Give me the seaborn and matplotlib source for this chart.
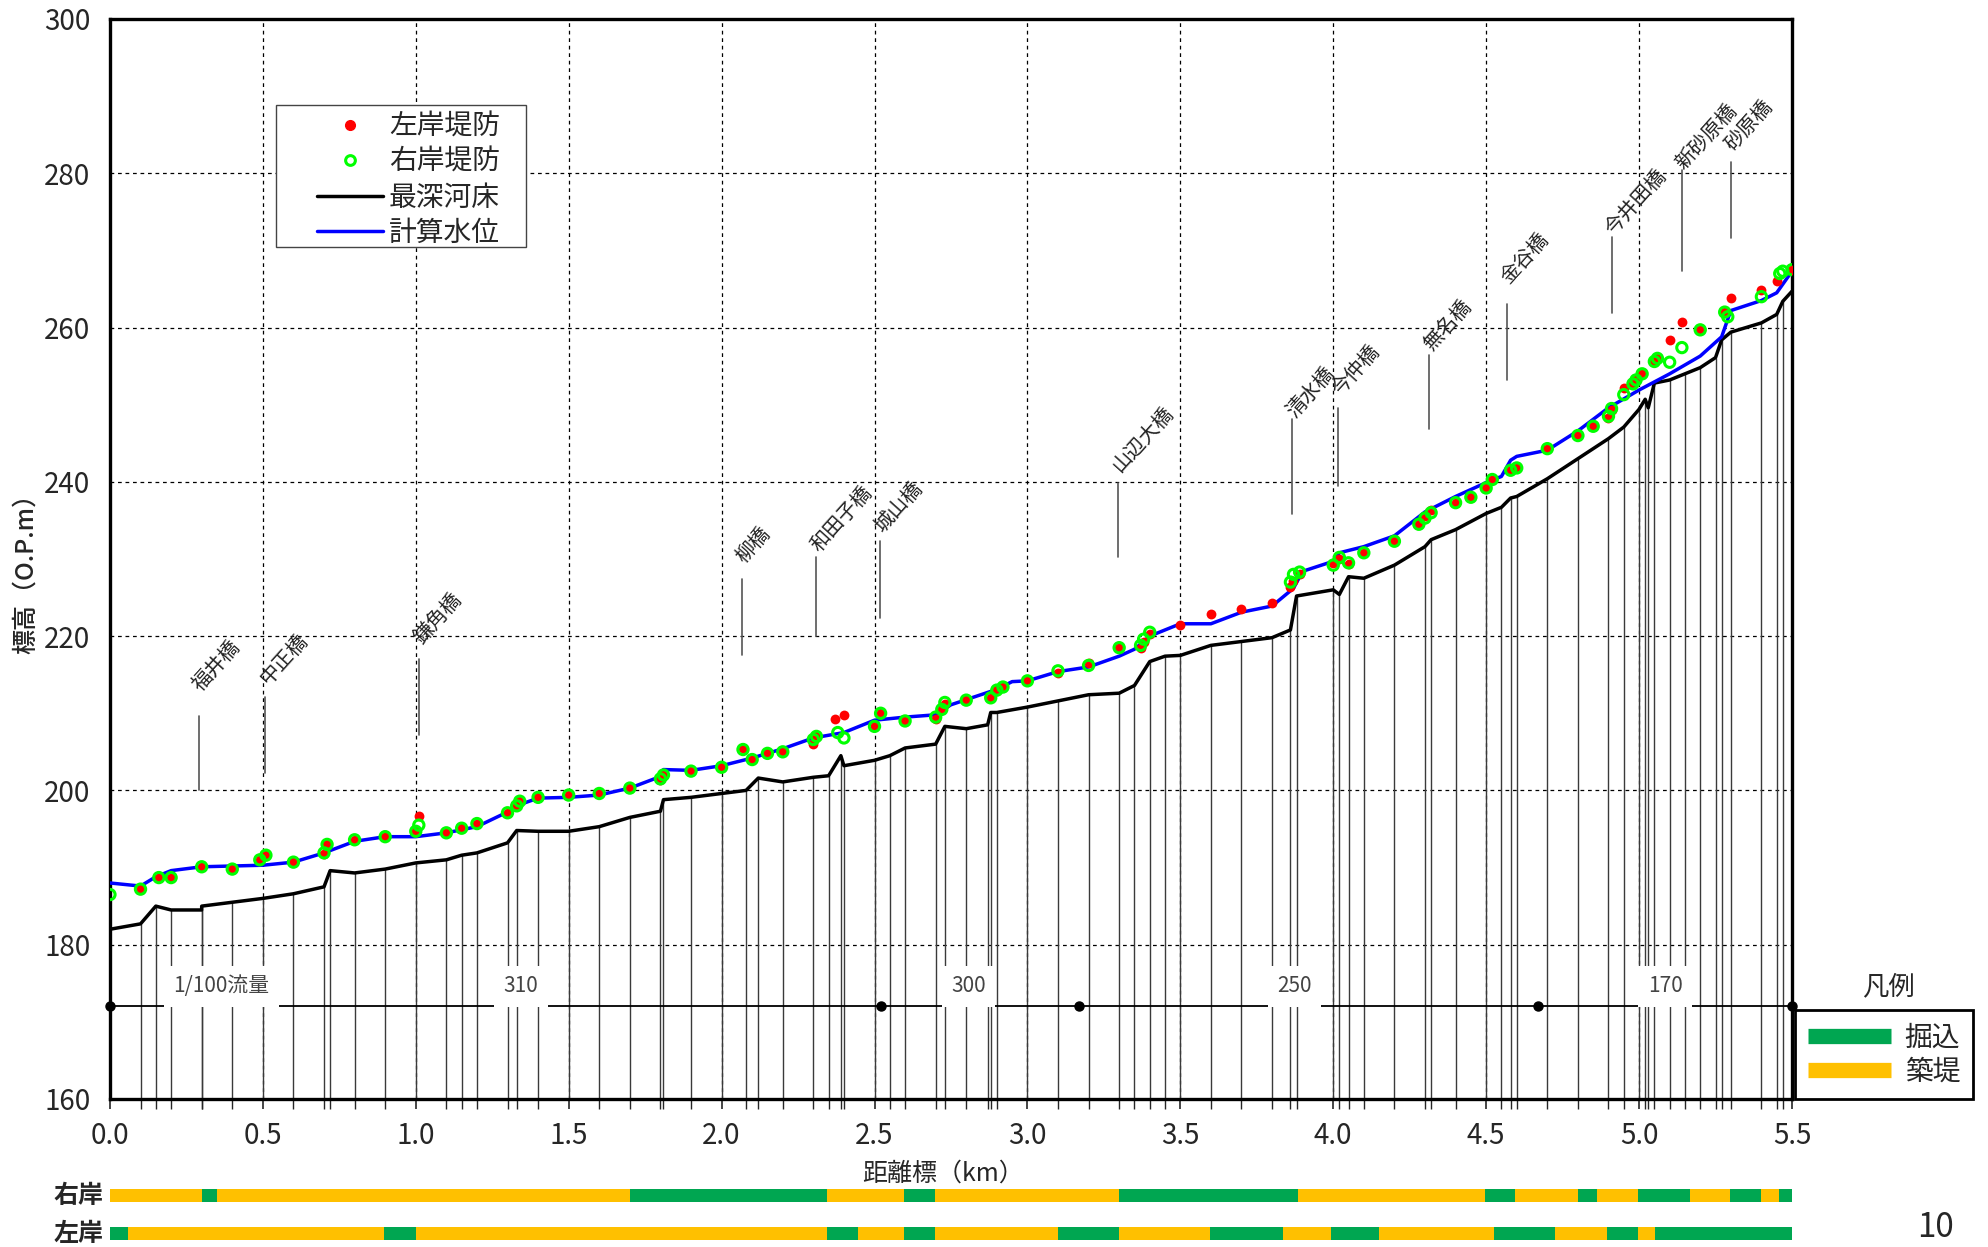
import numpy as np
import pandas as pd
import matplotlib.pyplot as plt
from matplotlib.lines import Line2D
from matplotlib.patches import Rectangle
import seaborn as sns

sns.set_style('white')
plt.rcParams['font.family'] = ['Noto Sans CJK JP', 'DejaVu Sans']
plt.rcParams['axes.unicode_minus'] = False

# 最深河床 (距離標 km, 標高 m)
bed_km = [0.00, 0.10, 0.15, 0.20, 0.30, 0.30, 0.40, 0.50, 0.60, 0.70,
          0.72, 0.80, 0.90, 1.00, 1.10, 1.15, 1.20, 1.30, 1.33, 1.40,
          1.50, 1.60, 1.70, 1.80, 1.81, 1.90, 2.00, 2.08, 2.12, 2.20,
          2.30, 2.35, 2.39, 2.40, 2.50, 2.55, 2.60, 2.70, 2.73, 2.80,
          2.87, 2.88, 2.90, 3.00, 3.10, 3.20, 3.30, 3.35, 3.40, 3.45,
          3.50, 3.60, 3.70, 3.80, 3.86, 3.88, 4.00, 4.02, 4.05, 4.10,
          4.20, 4.30, 4.32, 4.40, 4.50, 4.55, 4.58, 4.60, 4.70, 4.80,
          4.90, 4.95, 5.00, 5.02, 5.03, 5.05, 5.10, 5.15, 5.20, 5.25,
          5.27, 5.30, 5.40, 5.45, 5.47, 5.50]
bed_m = [182.0, 182.7, 185.0, 184.5, 184.5, 185.0, 185.5, 186.0, 186.6, 187.5,
         189.6, 189.3, 189.8, 190.6, 191.0, 191.6, 191.9, 193.2, 194.8, 194.7,
         194.7, 195.3, 196.5, 197.3, 198.8, 199.1, 199.6, 200.0, 201.6, 201.1,
         201.7, 201.9, 204.5, 203.2, 203.9, 204.5, 205.5, 206.0, 208.3, 208.0,
         208.5, 210.1, 210.1, 210.8, 211.6, 212.4, 212.6, 213.6, 216.7, 217.4,
         217.5, 218.8, 219.3, 219.8, 220.8, 225.2, 226.0, 225.4, 227.7, 227.5,
         229.2, 231.6, 232.5, 233.8, 235.9, 236.7, 237.9, 238.1, 240.4, 243.0,
         245.6, 247.1, 249.4, 250.7, 249.6, 252.8, 253.2, 254.0, 254.8, 256.1,
         258.4, 259.4, 260.6, 261.7, 263.4, 264.7]

# 計算水位
wl_km = [0.00, 0.10, 0.15, 0.20, 0.30, 0.50, 0.60, 0.70, 0.80, 0.90,
         1.00, 1.10, 1.20, 1.30, 1.35, 1.40, 1.50, 1.60, 1.70, 1.80,
         1.81, 1.90, 2.00, 2.10, 2.20, 2.30, 2.40, 2.50, 2.60, 2.70,
         2.75, 2.90, 2.95, 3.00, 3.10, 3.20, 3.30, 3.35, 3.40, 3.50,
         3.60, 3.70, 3.80, 3.87, 3.90, 4.00, 4.02, 4.10, 4.20, 4.30,
         4.40, 4.50, 4.55, 4.58, 4.60, 4.70, 4.80, 4.90, 5.00, 5.10,
         5.20, 5.27, 5.30, 5.40, 5.45, 5.50]
wl_m = [188.0, 187.6, 188.8, 189.6, 190.1, 190.3, 190.7, 191.9, 193.4, 194.0,
        194.0, 194.5, 195.3, 197.2, 198.3, 199.0, 199.1, 199.4, 200.3, 201.8,
        202.7, 202.6, 203.2, 204.2, 205.4, 206.8, 207.5, 209.1, 209.5, 209.8,
        211.1, 213.1, 214.1, 214.2, 215.4, 216.0, 217.4, 218.3, 220.0, 221.6,
        221.6, 223.1, 223.9, 226.2, 228.4, 229.7, 230.8, 231.6, 233.0, 236.1,
        238.1, 239.9, 240.7, 242.8, 243.3, 244.1, 246.6, 249.6, 251.9, 254.0,
        256.3, 258.8, 262.2, 263.5, 264.5, 267.3]

# 左岸堤防
left_km = [0.10, 0.16, 0.20, 0.30, 0.40, 0.49, 0.51, 0.60, 0.70, 0.71,
           0.80, 0.90, 1.00, 1.01, 1.10, 1.15, 1.20, 1.30, 1.33, 1.34,
           1.40, 1.50, 1.60, 1.70, 1.80, 1.81, 1.90, 2.00, 2.07, 2.10,
           2.15, 2.20, 2.30, 2.31, 2.37, 2.40, 2.50, 2.52, 2.60, 2.70,
           2.72, 2.73, 2.80, 2.88, 2.90, 2.92, 3.00, 3.10, 3.20, 3.30,
           3.37, 3.38, 3.40, 3.50, 3.60, 3.70, 3.80, 3.86, 3.87, 3.89,
           4.00, 4.02, 4.05, 4.10, 4.20, 4.28, 4.30, 4.32, 4.40, 4.45,
           4.50, 4.52, 4.58, 4.60, 4.70, 4.80, 4.85, 4.90, 4.91, 4.95,
           4.98, 4.99, 5.01, 5.05, 5.06, 5.10, 5.14, 5.20, 5.28, 5.30,
           5.40, 5.45, 5.50]
left_m = [187.2, 188.7, 188.7, 190.1, 189.8, 191.0, 191.6, 190.7, 191.7, 193.2,
          193.6, 194.0, 194.7, 196.7, 194.5, 195.1, 195.7, 197.1, 198.0, 198.6,
          199.1, 199.4, 199.6, 200.3, 201.3, 202.0, 202.5, 203.0, 205.5, 204.0,
          204.8, 205.0, 206.0, 207.0, 209.3, 209.8, 208.3, 210.0, 209.0, 209.3,
          210.5, 211.2, 211.7, 212.0, 213.0, 213.4, 214.2, 215.2, 216.5, 218.5,
          218.5, 219.3, 220.3, 221.5, 222.9, 223.5, 224.3, 226.4, 227.2, 228.0,
          229.5, 230.0, 229.3, 230.8, 232.3, 234.5, 235.6, 236.3, 237.3, 238.0,
          239.2, 240.3, 241.5, 241.8, 244.3, 246.0, 247.2, 248.3, 249.3, 252.2,
          252.7, 253.2, 254.0, 255.6, 256.0, 258.4, 260.7, 259.7, 262.0, 263.8,
          264.9, 266.0, 267.5]

# 右岸堤防
right_km = [0.00, 0.10, 0.16, 0.20, 0.30, 0.40, 0.49, 0.51, 0.60, 0.70,
            0.71, 0.80, 0.90, 1.00, 1.01, 1.10, 1.15, 1.20, 1.30, 1.33,
            1.34, 1.40, 1.50, 1.60, 1.70, 1.80, 1.81, 1.90, 2.00, 2.07,
            2.10, 2.15, 2.20, 2.30, 2.31, 2.38, 2.40, 2.50, 2.52, 2.60,
            2.70, 2.72, 2.73, 2.80, 2.88, 2.90, 2.92, 3.00, 3.10, 3.20,
            3.30, 3.37, 3.38, 3.40, 3.86, 3.87, 3.89, 4.00, 4.02, 4.05,
            4.10, 4.20, 4.28, 4.30, 4.32, 4.40, 4.45, 4.50, 4.52, 4.58,
            4.60, 4.70, 4.80, 4.85, 4.90, 4.91, 4.95, 4.98, 4.99, 5.01,
            5.05, 5.06, 5.10, 5.14, 5.20, 5.28, 5.29, 5.40, 5.46, 5.47,
            5.50]
right_m = [186.5, 187.2, 188.7, 188.7, 190.1, 189.8, 191.0, 191.6, 190.7, 191.9,
           193.0, 193.6, 194.0, 194.7, 195.5, 194.5, 195.1, 195.7, 197.1, 198.0,
           198.6, 199.1, 199.4, 199.6, 200.3, 201.5, 202.0, 202.5, 203.0, 205.3,
           204.0, 204.8, 205.0, 206.6, 207.0, 207.5, 206.8, 208.3, 210.0, 209.0,
           209.5, 210.5, 211.4, 211.7, 212.0, 213.0, 213.4, 214.2, 215.5, 216.2,
           218.5, 218.8, 219.6, 220.5, 227.0, 228.0, 228.3, 229.2, 230.2, 229.5,
           230.8, 232.3, 234.5, 235.3, 236.0, 237.3, 238.0, 239.2, 240.3, 241.5,
           241.8, 244.3, 246.0, 247.2, 248.5, 249.5, 251.3, 252.7, 253.2, 254.0,
           255.6, 256.0, 255.5, 257.4, 259.7, 262.0, 261.4, 264.0, 267.0, 267.3,
           267.5]

# 橋梁 (位置 km, 引出線 下端/上端 m)
bridge_names = ['福井橋', '中正橋', '鎌角橋', '柳橋', '和田子橋', '城山橋', '山辺大橋',
                '清水橋', '今仲橋', '無名橋', '金谷橋', '今井田橋', '新砂原橋', '砂原橋']
bridge_km = [0.29, 0.506, 1.012, 2.066, 2.31, 2.518, 3.297,
             3.866, 4.015, 4.313, 4.567, 4.91, 5.139, 5.30]
bridge_low = [200.1, 202.2, 207.2, 217.5, 220.0, 222.3, 230.2,
              235.8, 239.5, 246.9, 253.2, 261.9, 267.3, 271.6]
bridge_high = [209.6, 212.1, 217.0, 227.4, 230.2, 232.3, 239.9,
               248.2, 249.6, 256.5, 263.0, 271.8, 280.4, 281.4]
# 引出線上端から橋名までの間隔 (m)
label_gap = [2.6, 1.0, 1.4, 1.6, 0.2, 0.5, 0.8, -0.5, 1.0, 0.0, 2.1, -0.5, -0.5, 1.0]

# 流量配分
flow_level = 172.0
flow_break_km = [0.0, 2.52, 3.17, 4.67, 5.5]
flow_labels = ['1/100流量', '310', '300', '250', '170']
flow_label_km = [0.365, 1.344, 2.808, 3.874, 5.085]

# 河道形式 (区間始点 km)
right_seg_start = [0.0, 0.30, 0.35, 1.70, 2.344, 2.596, 2.697, 3.30, 3.885,
                   4.497, 4.594, 4.80, 4.863, 4.998, 5.167, 5.297, 5.40, 5.458]
right_seg_type = ['築堤', '掘込', '築堤', '掘込', '築堤', '掘込', '築堤', '掘込', '築堤',
                  '掘込', '築堤', '掘込', '築堤', '掘込', '築堤', '掘込', '築堤', '掘込']
left_seg_start = [0.0, 0.058, 0.896, 1.0, 2.344, 2.446, 2.596, 2.697, 3.10, 3.30,
                  3.597, 3.836, 3.993, 4.15, 4.526, 4.725, 4.896, 4.996, 5.053]
left_seg_type = ['掘込', '築堤', '掘込', '築堤', '掘込', '築堤', '掘込', '築堤', '掘込', '築堤',
                 '掘込', '築堤', '掘込', '築堤', '掘込', '築堤', '掘込', '築堤', '掘込']
x_end = 5.5

seg_colors = {'掘込': '#00A651', '築堤': '#FFC000'}

bed = pd.DataFrame({'km': bed_km, 'm': bed_m})
wl = pd.DataFrame({'km': wl_km, 'm': wl_m})
left = pd.DataFrame({'km': left_km, 'm': left_m})
right = pd.DataFrame({'km': right_km, 'm': right_m})

fig = plt.figure(figsize=(19.88, 12.47), dpi=100)
ax = fig.add_axes([0.0553, 0.1187, 0.8461, 0.8661])

# 横断測線
ax.vlines(bed['km'], 160, bed['m'], colors='#3a3a3a', lw=1.0, zorder=2)

sns.lineplot(data=bed, x='km', y='m', sort=False, estimator=None,
             color='black', lw=2.5, ax=ax, zorder=4)
sns.lineplot(data=wl, x='km', y='m', sort=False, estimator=None,
             color='#0000FF', lw=2.5, ax=ax, zorder=5)
sns.scatterplot(data=left, x='km', y='m', color='#FF0000', s=50,
                edgecolor='#FF0000', linewidth=0, ax=ax, zorder=6)
sns.scatterplot(data=right, x='km', y='m', color='#00FF00', s=55, ax=ax, zorder=7)
ax.collections[-1].set_facecolor('none')
ax.collections[-1].set_edgecolor('#00FF00')
ax.collections[-1].set_linewidth(2.2)

# 橋梁名
for name, xk, lo, hi, gap in zip(bridge_names, bridge_km, bridge_low, bridge_high, label_gap):
    ax.plot([xk, xk], [lo, hi], color='#555555', lw=1.2, zorder=3)
    ax.text(xk + 0.02, hi + gap, name, rotation=48, rotation_mode='anchor',
            ha='left', va='bottom', fontsize=14.5, color='#222222', zorder=8)

# 流量配分線
ax.plot([0, 5.5], [flow_level, flow_level], color='black', lw=1.3, zorder=6)
ax.plot(flow_break_km, [flow_level] * len(flow_break_km), 'o', color='black',
        ms=6.5, zorder=7, clip_on=False)
for lab, xk in zip(flow_labels, flow_label_km):
    ax.text(xk, 174.6, lab, ha='center', va='center', fontsize=15, color='#444444',
            zorder=6.5, bbox=dict(boxstyle='square,pad=0.45', fc='white', ec='none'))

ax.set_xlim(0, 5.5)
ax.set_ylim(160, 300)
ax.set_xticks(np.arange(0, 5.51, 0.5))
ax.set_xticklabels([f'{v:.1f}' for v in np.arange(0, 5.51, 0.5)])
ax.set_yticks(np.arange(160, 301, 20))
ax.set_xticks(bed_km, minor=True)
ax.tick_params(axis='x', which='major', direction='out', length=7, width=1.2,
               labelsize=20, pad=9, bottom=True)
ax.tick_params(axis='x', which='minor', direction='out', length=7, width=1.0, bottom=True)
ax.tick_params(axis='y', which='major', length=0, labelsize=20, pad=14)
ax.grid(True, which='major', color='black', lw=0.9, ls=(0, (3, 3)), zorder=0)
ax.set_axisbelow(True)
for sp in ax.spines.values():
    sp.set_linewidth(2.4)
    sp.set_color('black')
ax.set_xlabel('')
ax.set_ylabel('')

fig.text(0.0128, 0.545, '標高（O.P.m）', rotation=90, ha='center', va='center',
         fontsize=18, fontweight='medium')
fig.text(0.4745, 0.059, '距離標（km）', ha='center', va='center', fontsize=18)

# 凡例 (枠は固定幅で描く)
ax.add_patch(Rectangle((0.0988, 0.789), 0.1486, 0.131, transform=ax.transAxes,
                       fc='white', ec='#444444', lw=1.0, zorder=9))
handles = [
    Line2D([], [], ls='none', marker='o', color='#FF0000', ms=7),
    Line2D([], [], ls='none', marker='o', mfc='none', mec='#00FF00', mew=2.2, ms=7),
    Line2D([], [], color='black', lw=2.5),
    Line2D([], [], color='#0000FF', lw=2.5),
]
leg = ax.legend(handles, ['左岸堤防', '右岸堤防', '最深河床', '計算水位'],
                loc='upper left', bbox_to_anchor=(0.118, 0.922), fontsize=20,
                frameon=False, handlelength=2.4, handletextpad=0.2,
                labelspacing=0.2, borderpad=0.3, borderaxespad=0)
leg.set_zorder(10)

# 河道形式の帯
ax2 = fig.add_axes([0.0553, 0.0, 0.8461, 0.06])
ax2.set_xlim(0, 5.5)
ax2.set_ylim(0, 74.8)
ax2.axis('off')
for ypos, starts, types in [(51, right_seg_start, right_seg_type),
                            (13, left_seg_start, left_seg_type)]:
    ends = starts[1:] + [x_end]
    widths = [e - s for s, e in zip(starts, ends)]
    ax2.barh([ypos] * len(starts), widths, left=starts, height=13,
             color=[seg_colors[t] for t in types], edgecolor='none')
fig.text(0.052, 51 / 1247, '右岸', ha='right', va='center', fontsize=18, fontweight='bold')
fig.text(0.052, 13 / 1247, '左岸', ha='right', va='center', fontsize=18, fontweight='bold')

fig.text(0.950, 1 - 987 / 1247, '凡例', ha='center', va='center', fontsize=19)
leg2 = fig.legend([Line2D([], [], color=seg_colors['掘込'], lw=11, solid_capstyle='butt'),
                   Line2D([], [], color=seg_colors['築堤'], lw=11, solid_capstyle='butt')],
                  ['掘込', '築堤'], loc='upper left',
                  bbox_to_anchor=(1795 / 1988, 1 - 1010 / 1247), fontsize=20,
                  frameon=True, fancybox=False, edgecolor='black', framealpha=1,
                  handlelength=3.0, handletextpad=0.5, labelspacing=0.15,
                  borderpad=0.45, borderaxespad=0)
leg2.get_frame().set_linewidth(2.0)

fig.text(1935 / 1988, 0.002, '10', ha='center', va='bottom', fontsize=24)

fig.savefig('out.png', dpi=100)
